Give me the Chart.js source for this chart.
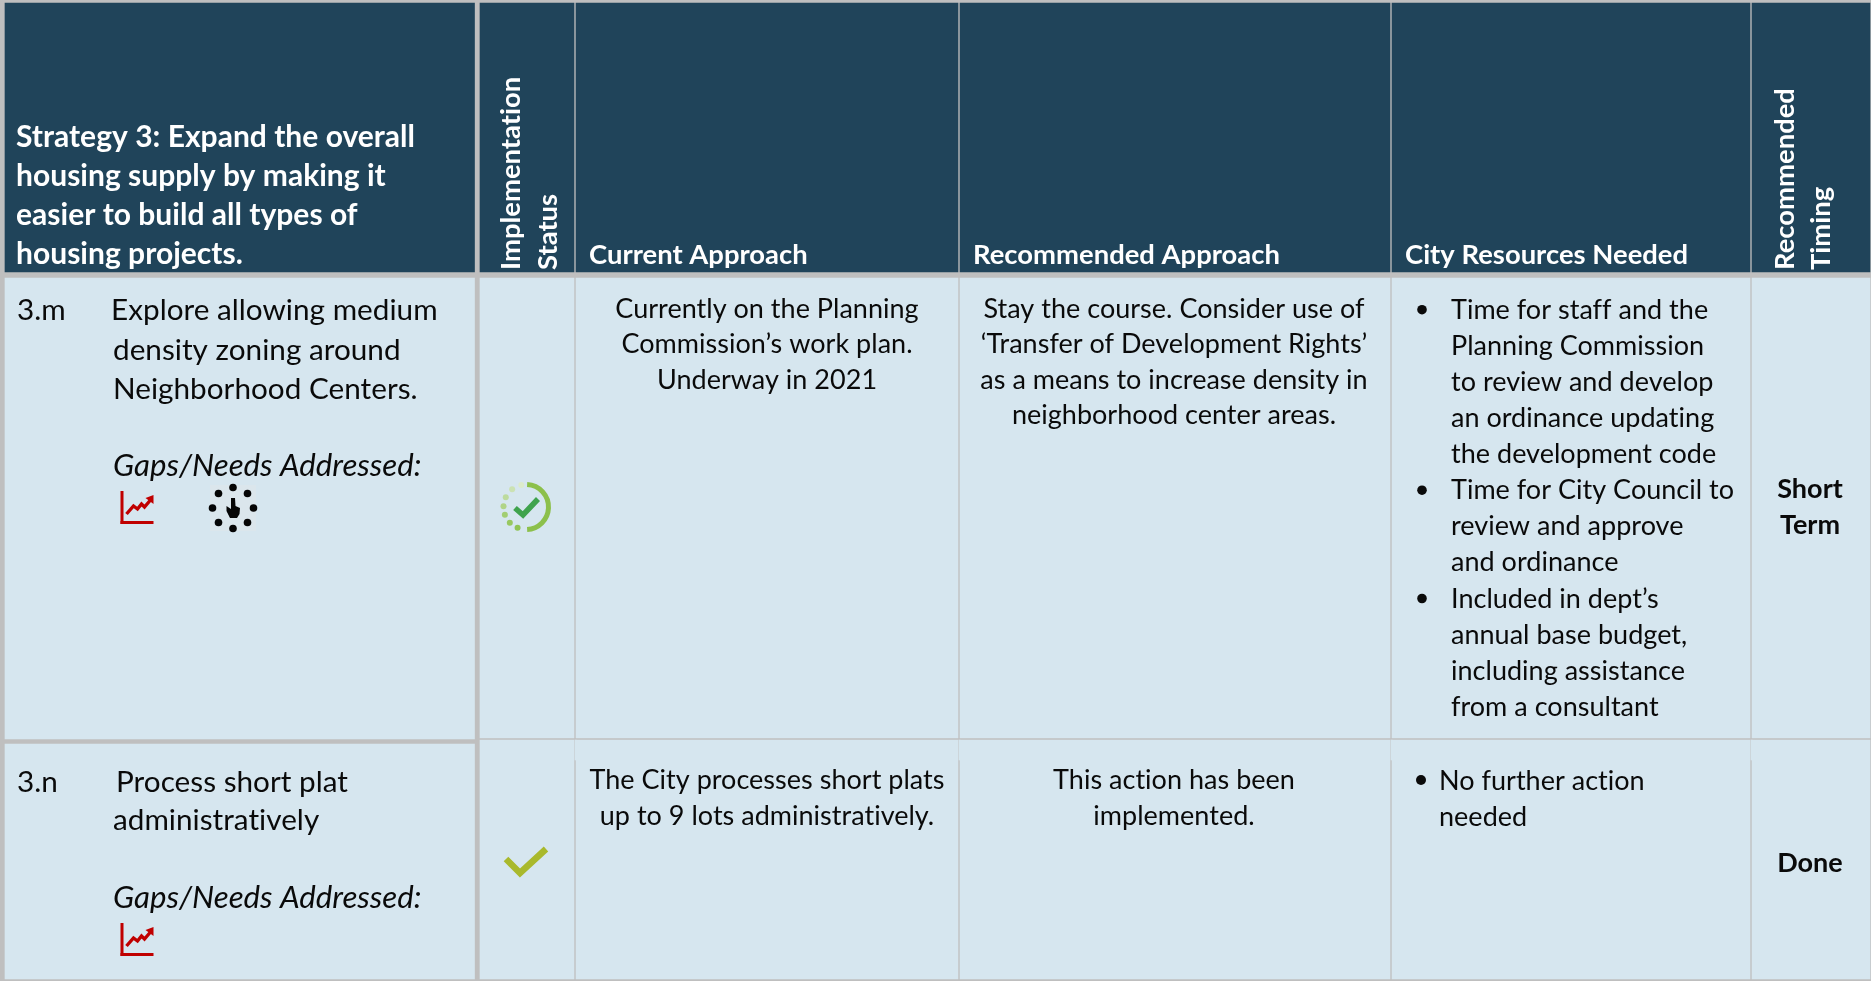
<!DOCTYPE html>
<html><head><meta charset="utf-8">
<style>html,body{margin:0;padding:0;background:#bfbfbf;overflow:hidden}canvas{display:block}</style>
<script src="https://cdn.jsdelivr.net/npm/chart.js@4"></script>
</head><body><canvas id="c" width="1871" height="981"></canvas>
<script>
// Table content
const strategyTitle = ["Strategy 3: Expand the overall","housing supply by making it","easier to build all types of","housing projects."];
const columnHeaders = ["Current Approach","Recommended Approach","City Resources Needed"];
const statusHeader = ["Implementation","Status"];
const timingHeader = ["Recommended","Timing"];
const actionM = ["Explore allowing medium","density zoning around","Neighborhood Centers."];
const actionN = ["Process short plat","administratively"];
const gapsLabel = "Gaps/Needs Addressed:";
const currentM = ["Currently on the Planning","Commission’s work plan.","Underway in 2021"];
const currentN = ["The City processes short plats","up to 9 lots administratively."];
const recommendedM = ["Stay the course. Consider use of","‘Transfer of Development Rights’","as a means to increase density in","neighborhood center areas."];
const recommendedN = ["This action has been","implemented."];
const resourcesM = [["Time for staff and the","Planning Commission","to review and develop","an ordinance updating","the development code"],["Time for City Council to","review and approve","and ordinance"],["Included in dept’s","annual base budget,","including assistance","from a consultant"]];
const resourcesN = ["No further action","needed"];
const timingM = ["Short","Term"];
const timingN = "Done";
// Table geometry in axis units
const columnEdges = [[5,474.5],[480,574],[576,958],[960,1390],[1392,1750],[1752,1870]];
const leadColumnRows = [[3,272],[278,739],[744,979]];
const otherColumnRows = [[3,272],[278,738],[740,979]];
const seamCentres = [575.5,959.5,1391.5,1751.5];
const seamSpan = [740,760];
const HEAD="#20445a", BODY="#d6e6ef";

const cellDatasets = columnEdges.map((e,i)=>({
  data:(i===0?leadColumnRows:otherColumnRows).map(r=>({x:(e[0]+e[1])/2,y:r})),
  barThickness:e[1]-e[0],
  backgroundColor:[HEAD,BODY,BODY],
  borderWidth:0,
  grouped:false
}));
cellDatasets.push({
  data:seamCentres.map(x=>({x,y:seamSpan})),
  barThickness:1,backgroundColor:BODY,borderWidth:0,grouped:false
});

const REG="Lato";
function put(ctx,s,x,y,font,color,align){
  ctx.font=font;ctx.fillStyle=color;ctx.textAlign=align||"left";ctx.textBaseline="alphabetic";
  ctx.letterSpacing="0.02px"; // keeps ti/fi as separate letters, as in the reference
  ctx.fillText(s,x,y);
}
function trendIcon(ctx,x,y){
  ctx.save();ctx.translate(x,y);
  ctx.strokeStyle="#c00000";ctx.fillStyle="#c00000";
  ctx.fillRect(0,0,3,33);ctx.fillRect(0,30,33,3);
  ctx.lineWidth=3.4;ctx.beginPath();
  [[6,23],[13,15],[17,18],[21,13],[24,16],[30,9]].forEach((p,i)=>i?ctx.lineTo(p[0],p[1]):ctx.moveTo(p[0],p[1]));
  ctx.stroke();
  ctx.beginPath();ctx.moveTo(25,7);ctx.lineTo(33,4);ctx.lineTo(33,13);ctx.closePath();ctx.fill();
  ctx.restore();
}
function dialIcon(ctx,cx,cy){
  ctx.fillStyle="#dbe6ec";ctx.fillRect(cx-23,cy-23,46,46);
  ctx.fillStyle="#050505";
  for(let i=0;i<8;i++){const a=i*Math.PI/4;ctx.beginPath();ctx.arc(cx+Math.cos(a)*20.5,cy+Math.sin(a)*20.5,3.8,0,7);ctx.fill();}
  ctx.beginPath();ctx.moveTo(cx-2,cy-10);ctx.lineTo(cx+2,cy-10);ctx.lineTo(cx+2.5,cy-2);ctx.lineTo(cx+7,cy);ctx.lineTo(cx+6.5,cy+6);ctx.lineTo(cx+4,cy+10);ctx.lineTo(cx-3,cy+10);ctx.lineTo(cx-6.5,cy+3);ctx.lineTo(cx-6.5,cy-2);ctx.lineTo(cx-2,cy+1);ctx.closePath();ctx.fill();
}
function ringIcon(ctx,cx,cy){
  ctx.strokeStyle="#8cc04b";ctx.lineWidth=5;ctx.beginPath();ctx.arc(cx,cy,22.5,-Math.PI/2+0.05,Math.PI/2-0.05);ctx.stroke();
  const dots=[[112,"#90c455"],[136,"#98c860"],[160,"#a2ce72"],[182,"#b0d487"],[206,"#bddb9e"],[232,"#cbe2b3"],[258,"#dcebcb"]];
  dots.forEach(d=>{const a=d[0]*Math.PI/180;ctx.fillStyle=d[1];
    const px=cx+Math.cos(a)*22.5,py=cy+Math.sin(a)*22.5;ctx.beginPath();ctx.arc(px,py,3,0,7);ctx.fill();});
  ctx.strokeStyle="#3fa34d";ctx.lineWidth=5.5;ctx.beginPath();ctx.moveTo(cx-11,cy+1);ctx.lineTo(cx-3,cy+8);ctx.lineTo(cx+12,cy-8);ctx.stroke();
}
const tablePainter={id:"tablePainter",afterDatasetsDraw(ch){
  const ctx=ch.ctx,X=v=>ch.scales.x.getPixelForValue(v),Y=v=>ch.scales.y.getPixelForValue(v);
  ctx.save();
  const W="#ffffff",T="#0a0a0a";
  const HT=`bold 30px ${REG}`,HB=`bold 27.4px ${REG}`,BD=`29.7px ${REG}`,IT=`italic 31.2px ${REG}`,CL=`27px ${REG}`,BB=`bold 27px ${REG}`;
  strategyTitle.forEach((s,i)=>put(ctx,s,X(16),Y(147+i*39),HT,W));
  [[589],[973],[1405]].forEach((p,i)=>put(ctx,columnHeaders[i],X(p[0]),Y(264),HB,W));
  const rot=(s,bx,by)=>{ctx.save();ctx.translate(X(bx),Y(by));ctx.rotate(-Math.PI/2);put(ctx,s,0,0,HB,W);ctx.restore();};
  rot(statusHeader[0],520,270);rot(statusHeader[1],557,270);
  rot(timingHeader[0],1794,270);rot(timingHeader[1],1830,270);
  // row 3.m
  put(ctx,"3.m",X(17),Y(320),BD,T);
  put(ctx,actionM[0],X(111),Y(320),BD,T);
  put(ctx,actionM[1],X(113),Y(360),BD,T);
  put(ctx,actionM[2],X(113),Y(399),BD,T);
  put(ctx,gapsLabel,X(113),Y(476),IT,T);
  trendIcon(ctx,X(120.5),Y(491));dialIcon(ctx,X(233),Y(508));ringIcon(ctx,X(526),Y(507));
  currentM.forEach((s,i)=>put(ctx,s,X(767),Y(318+i*35.4),CL,T,"center"));
  recommendedM.forEach((s,i)=>put(ctx,s,X(1174),Y(318+i*35.4),CL,T,"center"));
  let n=0;
  resourcesM.forEach(g=>g.forEach((s,j)=>{
    const y=318.7+n*36.1;
    if(j===0){ctx.fillStyle=T;ctx.beginPath();ctx.arc(X(1422),Y(y-9),4.8,0,7);ctx.fill();}
    put(ctx,s,X(1451),Y(y),CL,T);n++;
  }));
  timingM.forEach((s,i)=>put(ctx,s,X(1810),Y(498+i*36),BB,T,"center"));
  // row 3.n
  put(ctx,"3.n",X(17),Y(791.5),BD,T);
  put(ctx,actionN[0],X(116),Y(791.5),BD,T);
  put(ctx,actionN[1],X(113),Y(830),BD,T);
  put(ctx,gapsLabel,X(113),Y(908),IT,T);
  trendIcon(ctx,X(120.5),Y(923));
  currentN.forEach((s,i)=>put(ctx,s,X(767),Y(789+i*35.6),CL,T,"center"));
  recommendedN.forEach((s,i)=>put(ctx,s,X(1174),Y(789+i*35.6),CL,T,"center"));
  ctx.fillStyle=T;ctx.beginPath();ctx.arc(X(1421),Y(780),5,0,7);ctx.fill();
  resourcesN.forEach((s,i)=>put(ctx,s,X(1439),Y(789.5+i*36),CL,T));
  put(ctx,timingN,X(1810),Y(872),BB,T,"center");
  ctx.strokeStyle="#a9b92c";ctx.lineWidth=6.5;ctx.beginPath();ctx.moveTo(X(506),Y(859));ctx.lineTo(X(520),Y(873));ctx.lineTo(X(546),Y(849));ctx.stroke();
  ctx.restore();
}};
new Chart(document.getElementById("c"),{
  type:"bar",
  data:{datasets:cellDatasets},
  options:{responsive:false,animation:false,devicePixelRatio:1,
    layout:{padding:0},
    plugins:{legend:{display:false},tooltip:{enabled:false}},
    scales:{
      x:{type:"linear",min:0,max:1871,display:false,offset:false},
      y:{type:"linear",min:0,max:981,reverse:true,display:false}
    }},
  plugins:[tablePainter]
});
</script></body></html>
